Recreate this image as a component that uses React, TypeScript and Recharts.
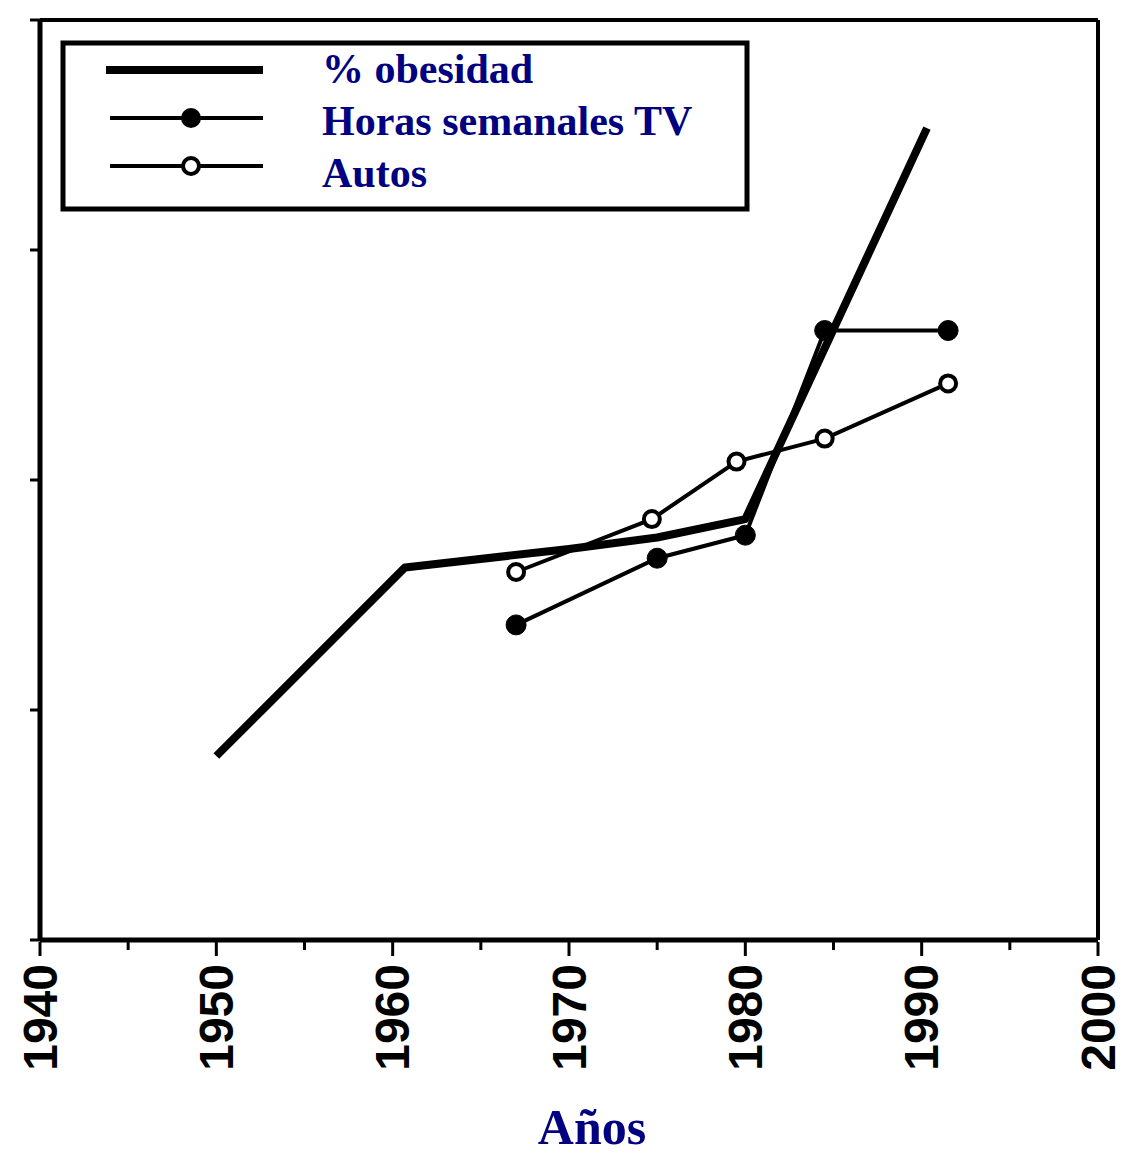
import { LineChart, Line, XAxis, YAxis, Legend, ReferenceLine } from 'recharts';

// values (y is an unlabelled index, 0-4)
const obesityYears = [1950, 1960.7, 1970, 1975, 1980, 1990.3];
const obesityValues = [0.8, 1.62, 1.7, 1.75, 1.83, 3.53];

const tvYears = [1967, 1975, 1980, 1984.5, 1991.5];
const tvValues = [1.37, 1.66, 1.76, 2.65, 2.65];

const autoYears = [1967, 1974.7, 1979.5, 1984.5, 1991.5];
const autoValues = [1.6, 1.83, 2.08, 2.18, 2.42];

const xTicks = [1940, 1945, 1950, 1955, 1960, 1965, 1970, 1975, 1980, 1985, 1990, 1995, 2000];
const yTicks = [0, 1, 2, 3, 4];

const seriesNames = ['% obesidad', 'Horas semanales TV', 'Autos'];
const xTitle = 'Años';

const obesity = obesityYears.map((year, i) => ({ year, value: obesityValues[i] }));
const tv = tvYears.map((year, i) => ({ year, value: tvValues[i] }));
const autos = autoYears.map((year, i) => ({ year, value: autoValues[i] }));

const navy = '#000080';

const YearTick = (props: any) => {
  const { x, y, payload } = props;
  const major = payload.value % 10 === 0;
  const ty = y + 22;
  return (
    <g>
      <line x1={x} y1={y} x2={x} y2={y + (major ? 14 : 8)} stroke="#000" strokeWidth={3} />
      {major && (
        <text
          x={x}
          y={ty}
          transform={`rotate(-90 ${x} ${ty})`}
          textAnchor="end"
          dominantBaseline="central"
          fontFamily="'Liberation Sans', Arial, sans-serif"
          fontWeight="bold"
          fontSize={48}
          fill="#000"
        >
          {payload.value}
        </text>
      )}
    </g>
  );
};

const LegendBox = () => (
  <svg width={690} height={172}>
    <rect x={3} y={3} width={684} height={166} fill="#fff" stroke="#000" strokeWidth={5} />
    <line x1={46} y1={30} x2={203} y2={30} stroke="#000" strokeWidth={8} />
    <line x1={50} y1={78} x2={203} y2={78} stroke="#000" strokeWidth={4} />
    <circle cx={131} cy={78} r={10} fill="#000" />
    <line x1={50} y1={126} x2={203} y2={126} stroke="#000" strokeWidth={4} />
    <circle cx={131} cy={126} r={8} fill="#fff" stroke="#000" strokeWidth={4} />
    {seriesNames.map((name, i) => (
      <text
        key={name}
        x={262}
        y={43 + i * 52}
        fontFamily="'Liberation Serif', 'Times New Roman', serif"
        fontWeight="bold"
        fontSize={42}
        fill={navy}
      >
        {name}
      </text>
    ))}
  </svg>
);

export default function App() {
  return (
    <div style={{ position: 'absolute', left: 0, top: 0, width: 1136, height: 1153, background: '#fff' }}>
      <LineChart width={1136} height={1153} margin={{ top: 20, right: 38, bottom: 63, left: 0 }}>
        <XAxis
          dataKey="year"
          type="number"
          domain={[1940, 2000]}
          ticks={xTicks}
          allowDataOverflow
          height={150}
          tickSize={0}
          tickLine={false}
          tick={<YearTick />}
          axisLine={{ stroke: '#000', strokeWidth: 5 }}
        />
        <YAxis
          type="number"
          domain={[0, 4]}
          ticks={yTicks}
          width={40}
          tickSize={10}
          tickFormatter={() => ''}
          tickLine={{ stroke: '#000', strokeWidth: 3 }}
          axisLine={{ stroke: '#000', strokeWidth: 5 }}
        />
        {/* top and right edges of the box frame */}
        <ReferenceLine y={4} stroke="#000" strokeWidth={4} />
        <ReferenceLine x={2000} stroke="#000" strokeWidth={4} />
        <Legend
          verticalAlign="middle"
          align="center"
          content={<LegendBox />}
          wrapperStyle={{ position: 'absolute', left: 60, top: 40, width: 690, height: 172 }}
        />
        <Line
          data={autos}
          dataKey="value"
          name={seriesNames[2]}
          stroke="#000"
          strokeWidth={4}
          dot={{ r: 8, fill: '#fff', stroke: '#000', strokeWidth: 4 }}
          isAnimationActive={false}
        />
        <Line
          data={tv}
          dataKey="value"
          name={seriesNames[1]}
          stroke="#000"
          strokeWidth={4}
          dot={{ r: 10, fill: '#000', stroke: '#000', strokeWidth: 1 }}
          isAnimationActive={false}
        />
        <Line
          data={obesity}
          dataKey="value"
          name={seriesNames[0]}
          stroke="#000"
          strokeWidth={8}
          strokeLinejoin="round"
          dot={false}
          isAnimationActive={false}
        />
      </LineChart>
      <div
        style={{
          position: 'absolute',
          left: 0,
          width: 1184,
          top: 1098,
          textAlign: 'center',
          fontFamily: "'Liberation Serif', 'Times New Roman', serif",
          fontWeight: 'bold',
          fontSize: 50,
          color: navy,
        }}
      >
        {xTitle}
      </div>
    </div>
  );
}
